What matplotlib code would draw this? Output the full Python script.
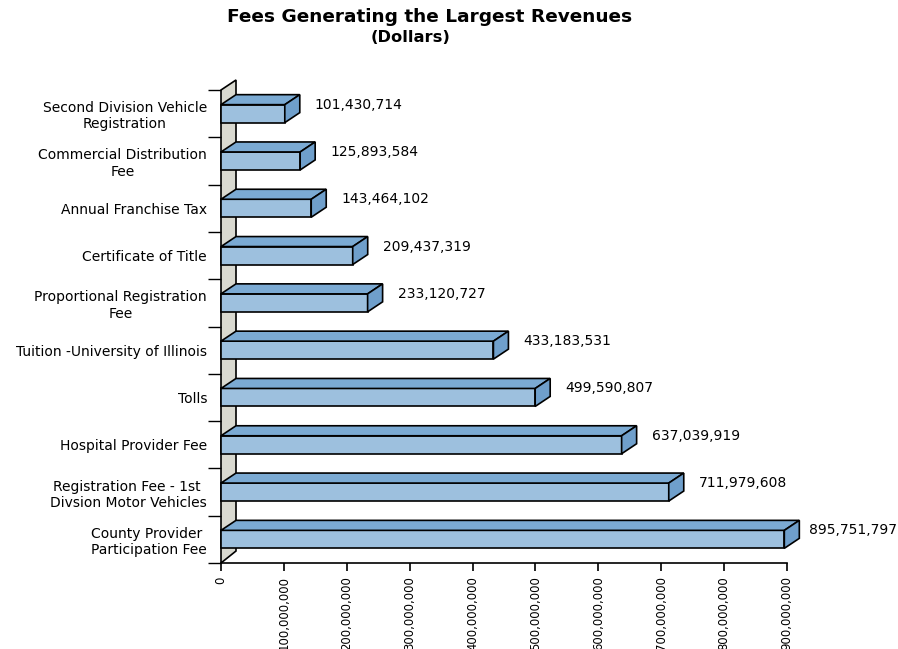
import matplotlib
matplotlib.use("Agg")
import matplotlib.pyplot as plt
from matplotlib.patches import Polygon

plt.rcParams['font.family'] = ['DejaVu Sans']

categories = [
    "County Provider \nParticipation Fee",
    "Registration Fee - 1st \nDivsion Motor Vehicles",
    "Hospital Provider Fee",
    "Tolls",
    "Tuition -University of Illinois",
    "Proportional Registration\nFee",
    "Certificate of Title",
    "Annual Franchise Tax",
    "Commercial Distribution\nFee",
    "Second Division Vehicle\nRegistration",
]
values = [895751797, 711979608, 637039919, 499590807, 433183531,
          233120727, 209437319, 143464102, 125893584, 101430714]
xticks = [0, 100e6, 200e6, 300e6, 400e6, 500e6, 600e6, 700e6, 800e6, 900e6]
xticklabels = ["0", "100,000,000", "200,000,000", "300,000,000", "400,000,000",
               "500,000,000", "600,000,000", "700,000,000", "800,000,000", "900,000,000"]

W, H = 898, 649
fig = plt.figure(figsize=(W / 100, H / 100), dpi=100)
L, R, B, T = 221, 787, 563, 90
ax = fig.add_axes([L / W, 1 - B / H, (R - L) / W, (B - T) / H])
xmax = 900e6
n = len(categories)
ax.set_xlim(0, xmax)
ax.set_ylim(-0.5, n - 0.5)

px_x = xmax / (R - L)
px_y = n / (B - T)
dx = 15 * px_x
dy = 10 * px_y

front_c = '#9DC0DE'
top_c = '#7BAAD3'
side_c = '#6F9FCB'
wall_c = '#D9D9D0'

# back wall
wall = Polygon([(0, -0.5), (0, n - 0.5), (dx, n - 0.5 + dy), (dx, -0.5 + 1.2 * dy)],
               closed=True, facecolor=wall_c, edgecolor='black', linewidth=1.2,
               clip_on=False, zorder=1)
ax.add_patch(wall)

bh = 0.38
for i, v in enumerate(values):
    y0, y1 = i - bh / 2, i + bh / 2
    front = Polygon([(0, y0), (v, y0), (v, y1), (0, y1)], closed=True,
                    facecolor=front_c, edgecolor='black', linewidth=1.2, zorder=3, clip_on=False)
    top = Polygon([(0, y1), (v, y1), (v + dx, y1 + dy), (dx, y1 + dy)], closed=True,
                  facecolor=top_c, edgecolor='black', linewidth=1.2, zorder=3, clip_on=False)
    side = Polygon([(v, y0), (v + dx, y0 + dy), (v + dx, y1 + dy), (v, y1)], closed=True,
                   facecolor=side_c, edgecolor='black', linewidth=1.2, zorder=3, clip_on=False)
    for p in (front, top, side):
        ax.add_patch(p)

fig.canvas.draw()
renderer = fig.canvas.get_renderer()
for i, v in enumerate(values):
    t = ax.text(v + 30 * px_x, i + 9 * px_y, f"{v:,}", ha='left', va='center',
                fontsize=10, clip_on=False, zorder=4)
    bb = t.get_window_extent(renderer)
    if bb.x1 > W - 1:
        t.set_x(v + 30 * px_x - (bb.x1 - (W - 1)) * px_x)

for s in ['top', 'right']:
    ax.spines[s].set_visible(False)
ax.spines['left'].set_visible(False)
ax.spines['bottom'].set_linewidth(1.2)
ax.spines['bottom'].set_zorder(5)

ax.set_xticks(xticks)
ax.set_xticklabels(xticklabels, rotation=90, fontsize=8.4)
ax.tick_params(axis='x', direction='out', length=6, width=1.2, pad=3.5)

ax.set_yticks(range(n))
ax.set_yticklabels(categories, fontsize=10, multialignment='center')
ax.tick_params(axis='y', which='major', length=0, pad=10)
ax.set_yticks([k - 0.5 for k in range(n + 1)], minor=True)
ax.tick_params(axis='y', which='minor', direction='out', length=9.5, width=1.0)
ax.set_facecolor('none')

fig.text(430 / W, 1 - 17 / H, "Fees Generating the Largest Revenues", ha='center', va='center',
         fontsize=13.3, fontweight='bold')
fig.text(411 / W, 1 - 38 / H, "(Dollars)", ha='center', va='center',
         fontsize=11.7, fontweight='bold')

fig.savefig("out.png", dpi=100)
